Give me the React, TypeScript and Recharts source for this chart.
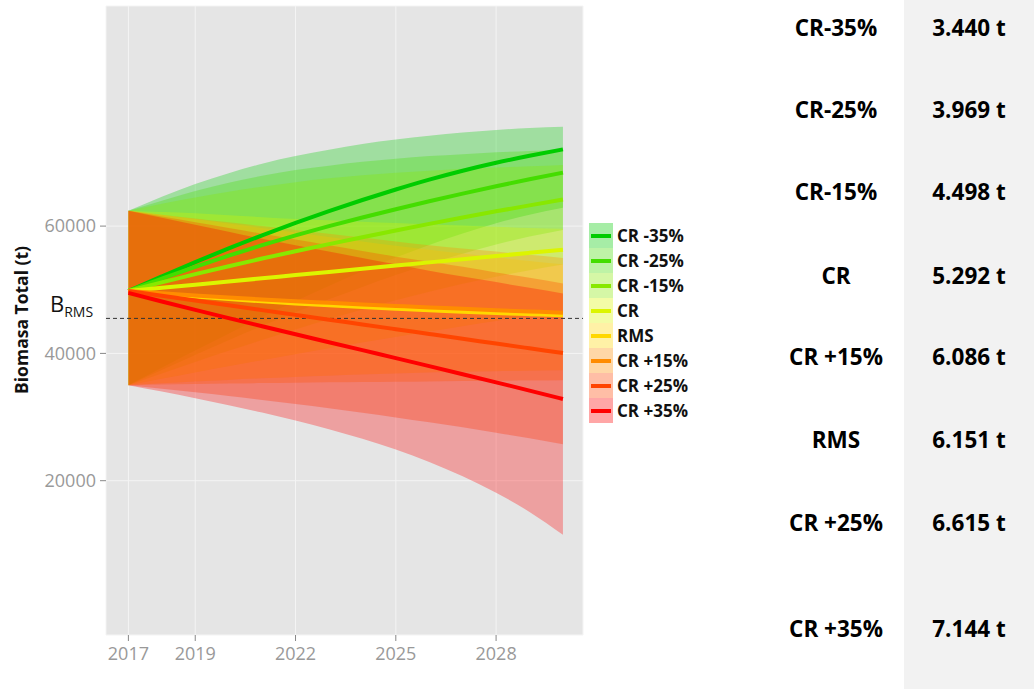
import React from "react";
import {
  ComposedChart,
  Area,
  Line,
  XAxis,
  YAxis,
  CartesianGrid,
  ReferenceLine,
  Legend,
} from "recharts";

const YEARS = [2017, 2018, 2019, 2020, 2021, 2022, 2023, 2024, 2025, 2026, 2027, 2028, 2029, 2030];

// mean trajectories (t)
const MEAN_M35 = [49800, 52100, 54350, 56500, 58550, 60500, 62350, 64100, 65750, 67300, 68700, 69950, 71050, 72050];
const MEAN_M25 = [49800, 51750, 53600, 55350, 57000, 58550, 60000, 61350, 62650, 63900, 65100, 66250, 67350, 68400];
const MEAN_M15 = [49800, 51150, 52450, 53700, 54900, 56050, 57170, 58260, 59320, 60350, 61350, 62320, 63260, 64170];
const MEAN_CR = [49800, 50300, 50800, 51300, 51800, 52300, 52800, 53300, 53800, 54300, 54800, 55300, 55800, 56300];
const MEAN_RMS = [49800, 49350, 48930, 48540, 48180, 47850, 47550, 47270, 47010, 46770, 46550, 46350, 46170, 46000];
const MEAN_P15 = [49800, 49440, 49100, 48780, 48480, 48200, 47940, 47690, 47450, 47220, 47000, 46790, 46590, 46400];
const MEAN_P25 = [49800, 49050, 48300, 47550, 46800, 46050, 45300, 44550, 43800, 43050, 42300, 41550, 40800, 40050];
const MEAN_P35 = [49500, 48150, 46830, 45540, 44270, 43010, 41760, 40510, 39260, 38000, 36730, 35450, 34150, 32830];

// lower bounds
const LOW_M35 = [35000, 37750, 40450, 43100, 45700, 48200, 50600, 52900, 55050, 57050, 58850, 60450, 61800, 62900];
const LOW_M25 = [35000, 37400, 39750, 42050, 44300, 46450, 48500, 50450, 52300, 54050, 55650, 57100, 58350, 59400];
const LOW_M15 = [35000, 36850, 38650, 40400, 42100, 43750, 45350, 46900, 48350, 49700, 50950, 52050, 53050, 53950];
const LOW_CR = [35000, 36000, 37000, 37980, 38940, 39880, 40800, 41700, 42580, 43440, 44280, 45100, 45900, 46680];
const LOW_RMS = [35000, 35300, 35580, 35840, 36080, 36300, 36500, 36680, 36840, 36980, 37100, 37200, 37280, 37340];
const LOW_P15 = [35000, 35100, 35190, 35270, 35340, 35400, 35450, 35500, 35550, 35600, 35650, 35700, 35750, 35800];
const LOW_P25 = [35000, 34450, 33880, 33290, 32680, 32040, 31370, 30670, 29940, 29180, 28380, 27540, 26660, 25740];
const LOW_P35 = [35000, 34000, 32950, 31850, 30700, 29450, 28100, 26600, 24900, 22950, 20700, 18100, 15100, 11500];

// upper bounds
const HIGH_M35 = [62400, 64600, 66600, 68300, 69800, 71000, 72000, 72900, 73600, 74200, 74700, 75100, 75400, 75600];
const HIGH_M25 = [62400, 64000, 65500, 66800, 67900, 68800, 69500, 70100, 70600, 71000, 71300, 71600, 71800, 72000];
const HIGH_M15 = [62400, 63500, 64500, 65400, 66200, 66900, 67500, 68000, 68400, 68700, 69000, 69200, 69400, 69600];
const HIGH_CR = [62400, 62200, 62000, 61700, 61400, 61100, 60900, 60700, 60500, 60300, 60100, 59900, 59700, 59600];
const HIGH_RMS = [62400, 61800, 61100, 60400, 59700, 59000, 58300, 57600, 56900, 56300, 55700, 55100, 54500, 54000];
const HIGH_P15 = [62400, 61800, 61200, 60600, 60000, 59400, 58800, 58200, 57600, 57000, 56500, 56000, 55500, 55000];
const HIGH_P25 = [62400, 61500, 60600, 59700, 58800, 57900, 57000, 56100, 55200, 54400, 53600, 52700, 51900, 51000];
const HIGH_P35 = [62400, 61300, 60200, 59100, 58000, 57000, 56000, 55000, 54000, 53000, 52100, 51200, 50300, 49400];

const B_RMS = 45500;
const X_TICKS = [2017, 2019, 2022, 2025, 2028];
const Y_TICKS = [20000, 40000, 60000];

const TABLE_LABELS = ["CR-35%", "CR-25%", "CR-15%", "CR", "CR +15%", "RMS", "CR +25%", "CR +35%"];
const TABLE_VALUES = ["3.440 t", "3.969 t", "4.498 t", "5.292 t", "6.086 t", "6.151 t", "6.615 t", "7.144 t"];
const TABLE_ROW_Y = [28, 110, 192, 276, 357, 440, 523, 629];

const scenarios = [
  { key: "m35", label: "CR -35%", color: "#00cc00", mean: MEAN_M35, low: LOW_M35, high: HIGH_M35 },
  { key: "m25", label: "CR -25%", color: "#44dd00", mean: MEAN_M25, low: LOW_M25, high: HIGH_M25 },
  { key: "m15", label: "CR -15%", color: "#88e800", mean: MEAN_M15, low: LOW_M15, high: HIGH_M15 },
  { key: "cr", label: "CR", color: "#dcf500", mean: MEAN_CR, low: LOW_CR, high: HIGH_CR },
  { key: "rms", label: "RMS", color: "#ffd700", mean: MEAN_RMS, low: LOW_RMS, high: HIGH_RMS },
  { key: "p15", label: "CR +15%", color: "#ff8c00", mean: MEAN_P15, low: LOW_P15, high: HIGH_P15 },
  { key: "p25", label: "CR +25%", color: "#ff4500", mean: MEAN_P25, low: LOW_P25, high: HIGH_P25 },
  { key: "p35", label: "CR +35%", color: "#ff0000", mean: MEAN_P35, low: LOW_P35, high: HIGH_P35 },
];

const chartData = YEARS.map((year, i) => {
  const row: Record<string, number | number[]> = { year };
  scenarios.forEach((s) => {
    row[s.key] = s.mean[i];
    row[s.key + "Band"] = [s.low[i], s.high[i]];
  });
  return row;
});

const font = "'Open Sans', sans-serif";
const tickStyle = { fontFamily: font, fontSize: 18, fill: "#999999" };

function ScenarioLegend() {
  return (
    <div style={{ fontFamily: font }}>
      {scenarios.map((s) => (
        <div key={s.key} style={{ display: "flex", alignItems: "center", height: 25 }}>
          <div style={{ position: "relative", width: 24, height: 25 }}>
            <div style={{ position: "absolute", inset: 0, background: s.color, opacity: 0.35 }} />
            <div
              style={{ position: "absolute", left: 2, right: 2, top: 10.5, height: 4, background: s.color }}
            />
          </div>
          <span style={{ marginLeft: 4, fontSize: 17, fontWeight: 700, color: "#111", whiteSpace: "nowrap" }}>
            {s.label}
          </span>
        </div>
      ))}
    </div>
  );
}

const cellStyle = {
  position: "absolute" as const,
  width: 130,
  height: 30,
  lineHeight: "30px",
  textAlign: "center" as const,
  fontFamily: font,
  fontWeight: 700,
  fontSize: 22.5,
  color: "#000",
};

export default function App() {
  return (
    <div
      style={{
        position: "absolute",
        left: 0,
        top: 0,
        width: 1034,
        height: 689,
        background: "#fff",
        overflow: "hidden",
      }}
    >
      <ComposedChart
        width={720}
        height={689}
        data={chartData}
        margin={{ top: 6, right: 137, bottom: 14, left: 0 }}
      >
        <CartesianGrid fill="#e5e5e5" stroke="#f4f4f4" strokeWidth={1} />
        <XAxis
          dataKey="year"
          type="number"
          domain={[2016.33, 2030.6]}
          ticks={X_TICKS}
          allowDataOverflow
          axisLine={false}
          tickSize={6}
          tickMargin={6}
          tickLine={{ stroke: "#888" }}
          tick={tickStyle}
          height={40}
        />
        <YAxis
          type="number"
          domain={[-4242, 94580]}
          ticks={Y_TICKS}
          allowDataOverflow
          axisLine={false}
          tickSize={6}
          tickMargin={4}
          tickLine={{ stroke: "#888" }}
          tick={tickStyle}
          width={106}
          label={() => (
            <text
              x={21}
              y={320}
              transform="rotate(-90 21 320)"
              textAnchor="middle"
              dominantBaseline="central"
              fontFamily={font}
              fontSize={17.5}
              fontWeight={700}
              fill="#111"
            >
              Biomasa Total (t)
            </text>
          )}
        />
        {scenarios.map((s) => (
          <Area
            key={s.key + "Band"}
            dataKey={s.key + "Band"}
            type="monotone"
            stroke="none"
            fill={s.color}
            fillOpacity={0.3}
            isAnimationActive={false}
            legendType="none"
            activeDot={false}
          />
        ))}
        <ReferenceLine
          y={B_RMS}
          stroke="#333"
          strokeDasharray="4 3"
          strokeWidth={1}
          label={({ viewBox }: any) => (
            <text x={viewBox.x - 56} y={viewBox.y - 6} fontFamily={font} fontSize={22} fill="#111">
              B
              <tspan fontSize={14} dy={5}>
                RMS
              </tspan>
            </text>
          )}
        />
        {scenarios.map((s) => (
          <Line
            key={s.key}
            dataKey={s.key}
            type="monotone"
            stroke={s.color}
            strokeWidth={4}
            dot={false}
            activeDot={false}
            isAnimationActive={false}
          />
        ))}
        <Legend
          layout="vertical"
          align="center"
          verticalAlign="middle"
          wrapperStyle={{ left: 589, top: 223, width: "auto" }}
          content={() => <ScenarioLegend />}
        />
      </ComposedChart>

      <div style={{ position: "absolute", left: 904, top: 0, width: 130, height: 689, background: "#f2f2f2" }} />
      {TABLE_LABELS.map((label, i) => (
        <div key={label} style={{ ...cellStyle, left: 771, top: TABLE_ROW_Y[i] - 15 }}>
          {label}
        </div>
      ))}
      {TABLE_VALUES.map((value, i) => (
        <div key={value} style={{ ...cellStyle, left: 904, top: TABLE_ROW_Y[i] - 15 }}>
          {value}
        </div>
      ))}
    </div>
  );
}
